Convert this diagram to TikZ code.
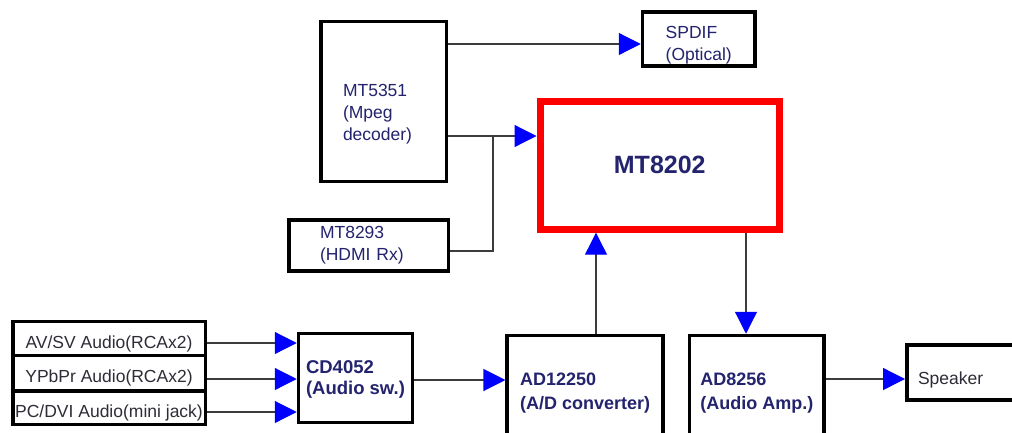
\documentclass[tikz,border=0pt]{standalone}
\usepackage{fontspec}
\setmainfont{Liberation Sans}
\usetikzlibrary{positioning}
\usetikzlibrary{calc}
\usetikzlibrary{arrows.meta}
\definecolor{chipnavy}{RGB}{35,35,110}
\definecolor{labelgray}{RGB}{45,45,55}
\definecolor{tipblue}{RGB}{0,0,255}
\definecolor{wirered}{RGB}{255,0,0}
\definecolor{wiregray}{RGB}{60,60,60}

\begin{document}
\begin{tikzpicture}
 [ x=1pt, y=-1pt
 , chip/.style={draw=black, line width=3.5pt, fill=white, align=left, text=chipnavy, inner sep=0pt, font=\fontsize{17.5}{22}\selectfont}
 , chip bold/.style={chip, font=\fontsize{18}{23.5}\selectfont\bfseries}
 , main chip/.style={chip, draw=wirered, line width=7pt, font=\fontsize{25}{30}\selectfont\bfseries}
 , jack/.style={chip, text=labelgray, text height=23pt, minimum width=192.5}
 , signal/.style={draw=wiregray, line width=1.2pt, -{Triangle[length=22pt, width=22pt, color=tipblue]}}
 , wire/.style={draw=wiregray, line width=1.2pt}
 ]
  \useasboundingbox (0,0) rectangle (1012,432);
  \clip (0,0) rectangle (1012,432);

  \node [chip, minimum width=125.5, minimum height=160, inner xsep=22.25, text width=81] (mpeg) at (383.5,101.25)
    {\rule{0pt}{38.5pt}MT5351\\(Mpeg\\decoder)};
  \node [chip, minimum width=112.5, minimum height=54.25] (spdif) at (698.75,38.9)
    {\rule{0pt}{25pt}SPDIF\\(Optical)};
  \node [main chip, minimum width=239.5, minimum height=127.7] (mt8202) at (659.75,165.35) {MT8202};
  \node [chip, minimum width=159.5, minimum height=51.25, inner xsep=31.25, text width=97] (hdmi) at (368.5,245.4)
    {MT8293\\(HDMI Rx)};

  \node [jack, minimum height=34] (in1) at (109,338.5) {AV/SV Audio(RCAx2)};
  \node [jack, minimum height=35] (in2) at (109,373) {YPbPr Audio(RCAx2)};
  \node [jack, minimum height=33.5] (in3) at (109,407.75) {PC/DVI Audio(mini jack)};

  \node [chip bold, font=\fontsize{18.5}{21.5}\selectfont\bfseries, minimum width=114, minimum height=88.75] (cd) at (355.5,377.9)
    {\rule{0pt}{16pt}CD4052\\(Audio sw.)};
  \node [chip bold, minimum width=156, minimum height=109.5] (adc) at (585.2,390.25)
    {\rule{0pt}{18pt}AD12250\\(A/D converter)};
  \node [chip bold, minimum width=134.7, minimum height=109.5] (amp) at (756.8,390.25)
    {\rule{0pt}{18pt}AD8256\\(Audio Amp.)};
  \node [chip, text=labelgray, minimum width=118.25, minimum height=55, inner xsep=11.25, text width=95.75, text height=28pt] (spk) at (965.9,372.5)
    {Speaker};

  \coordinate (join) at (493,136);
  \draw [signal] (mpeg.east |- 0,44) -- (spdif.west |- 0,44);
  \draw [signal] (mpeg.east |- join) -- (mt8202.west |- join);
  \draw [wire] (hdmi.east |- 0,251) -| (join);
  \draw [signal] (adc.north -| 596,0) -- (mt8202.south -| 596,0);
  \draw [signal] (mt8202.south -| 746,0) -- (amp.north -| 746,0);
  \draw [signal] (cd.east |- 0,380) -- (adc.west |- 0,380);
  \draw [signal] (amp.east |- 0,379) -- (spk.west |- 0,379);
  \foreach \jk/\y in {in1/343, in2/379, in3/412}
    \draw [signal] (\jk.east |- 0,\y) -- (cd.west |- 0,\y);
\end{tikzpicture}
\end{document}
